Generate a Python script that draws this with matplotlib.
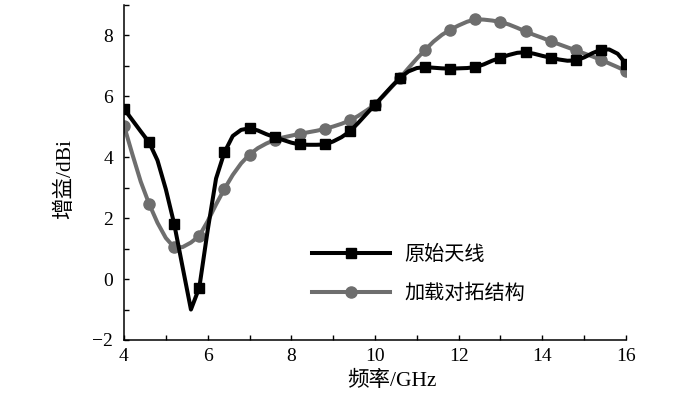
import matplotlib
matplotlib.use("Agg")
import matplotlib.pyplot as plt
from matplotlib.ticker import MultipleLocator

# ---- data ----
freq_ghz = [4.0, 4.2, 4.4, 4.6, 4.8, 5.0, 5.2, 5.4, 5.6, 5.8,
            6.0, 6.2, 6.4, 6.6, 6.8, 7.0, 7.2, 7.4, 7.6, 7.8,
            8.0, 8.2, 8.4, 8.6, 8.8, 9.0, 9.2, 9.4, 9.6, 9.8,
            10.0, 10.2, 10.4, 10.6, 10.8, 11.0, 11.2, 11.4, 11.6, 11.8,
            12.0, 12.2, 12.4, 12.6, 12.8, 13.0, 13.2, 13.4, 13.6, 13.8,
            14.0, 14.2, 14.4, 14.6, 14.8, 15.0, 15.2, 15.4, 15.6, 15.8,
            16.0]

gain_original = [5.59, 5.22, 4.85, 4.49, 3.90, 2.95, 1.81, 0.40, -1.00, -0.28,
                 1.60, 3.30, 4.16, 4.70, 4.90, 4.95, 4.88, 4.76, 4.66, 4.57,
                 4.48, 4.42, 4.41, 4.41, 4.42, 4.52, 4.66, 4.85, 5.13, 5.43,
                 5.73, 6.03, 6.33, 6.61, 6.82, 6.93, 6.96, 6.94, 6.92, 6.91,
                 6.92, 6.93, 6.96, 7.05, 7.17, 7.27, 7.36, 7.43, 7.45, 7.40,
                 7.33, 7.27, 7.21, 7.17, 7.18, 7.28, 7.42, 7.53, 7.54, 7.40,
                 7.07]

gain_loaded = [5.04, 4.10, 3.20, 2.47, 1.85, 1.35, 1.04, 1.05, 1.20, 1.42,
               1.90, 2.45, 2.96, 3.42, 3.80, 4.09, 4.30, 4.45, 4.57, 4.65,
               4.71, 4.77, 4.82, 4.87, 4.93, 5.01, 5.10, 5.21, 5.36, 5.54,
               5.73, 6.01, 6.31, 6.61, 6.93, 7.24, 7.53, 7.80, 8.02, 8.19,
               8.33, 8.45, 8.53, 8.52, 8.49, 8.44, 8.36, 8.25, 8.13, 8.02,
               7.92, 7.81, 7.71, 7.61, 7.51, 7.41, 7.31, 7.20, 7.08, 6.96,
               6.83]

series_labels = ["原始天线", "加载对拓结构"]
x_label = "频率/GHz"
y_label = "增益/dBi"

# ---- styling ----
plt.rcParams["font.family"] = ["Liberation Serif", "Noto Sans CJK SC", "DejaVu Sans"]
plt.rcParams["axes.unicode_minus"] = True

fig = plt.figure(figsize=(7.0, 3.96), dpi=100)
ax = fig.add_axes([124 / 700, 56 / 396, 502 / 700, 335 / 396])

ax.plot(freq_ghz, gain_original, color="black", lw=2.9, marker="s", ms=7.2,
        markevery=3, label=series_labels[0], zorder=3)
ax.plot(freq_ghz, gain_loaded, color="#6e6e6e", lw=2.9, marker="o", ms=8,
        markevery=3, label=series_labels[1], zorder=2)

ax.set_xlim(4, 16)
ax.set_ylim(-2, 9)
ax.xaxis.set_major_locator(MultipleLocator(2))
ax.xaxis.set_minor_locator(MultipleLocator(1))
ax.yaxis.set_major_locator(MultipleLocator(2))
ax.yaxis.set_minor_locator(MultipleLocator(1))
ax.set_yticks([-2, 0, 2, 4, 6, 8])

for s in ["top", "right"]:
    ax.spines[s].set_visible(False)
for s in ["left", "bottom"]:
    ax.spines[s].set_linewidth(1.1)

ax.tick_params(axis="both", which="both", direction="in", length=3.6, width=1.0,
               labelsize=14)
ax.tick_params(axis="x", which="major", pad=6)
ax.tick_params(axis="y", which="major", pad=8)

ax.set_xlabel(x_label, fontsize=15.5)
ax.set_ylabel(y_label, fontsize=15.5)
ax.xaxis.set_label_coords(0.534, -0.093)
ax.yaxis.set_label_coords(-0.098, 0.48)

leg = ax.legend(loc="center left", bbox_to_anchor=(0.374, 0.197), frameon=False,
                handlelength=3.9, handletextpad=0.7,
                labelspacing=0.85, borderaxespad=0, borderpad=0,
                prop={"family": ["Noto Sans CJK SC"], "size": 14.5})

fig.savefig("out.png", dpi=100)
